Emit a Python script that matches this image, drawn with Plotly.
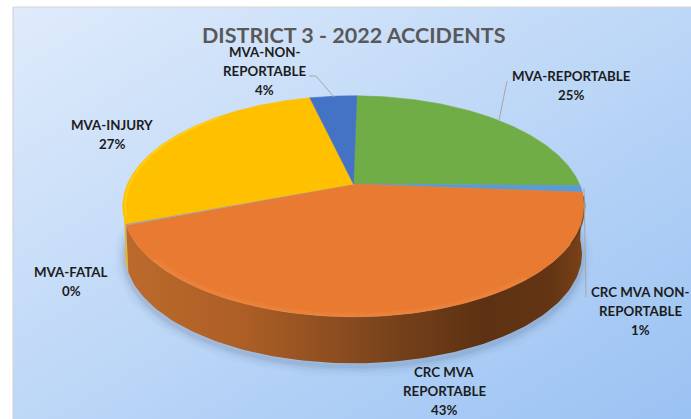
import base64
import numpy as np
import plotly.graph_objects as go

# ---- data ----
categories = ["MVA-REPORTABLE", "CRC MVA NON-REPORTABLE", "CRC MVA REPORTABLE",
              "MVA-FATAL", "MVA-INJURY", "MVA-NON-REPORTABLE"]
percent_values = [25, 1, 43, 0.2, 27, 4]
slice_colors = ["#70AD47", "#5B9BD5", "#E97A32", "#A5A5A5", "#FFC000", "#4472C4"]
title_text = "DISTRICT 3 - 2022 ACCIDENTS"
label_lines = [["MVA-REPORTABLE"], ["CRC MVA NON-", "REPORTABLE"], ["CRC MVA", "REPORTABLE"],
               ["MVA-FATAL"], ["MVA-INJURY"], ["MVA-NON-", "REPORTABLE"]]
label_anchor = [(571, 76), (640, 292), (444, 372), (71, 272), (112, 125), (264, 52)]

# ---- pie geometry (perspective projection of a disc) ----
W, H = 691, 419
CX, CY = 353.5, 184
RX, RY, K = 226, 106, 0.202
START_DEG = 1.0
WALL_DY, WALL_S = 48, 0.99


def project(theta_deg, r=1.0, dy=0.0, s=1.0):
    t = np.radians(theta_deg)
    x, y = r * np.sin(t), r * np.cos(t)
    d = 1 + K * y
    return CX + s * RX * x / d, CY - s * RY * y / d + dy * 1.0 + (s - 1) * 22


vals = np.array(percent_values, dtype=float)
cum = np.concatenate([[0], np.cumsum(vals)]) / vals.sum() * 360 + START_DEG

fig = go.Figure()

# soft shadow beneath the disc
th = np.linspace(70, 290, 160)
for w, a in [(22, 0.025), (16, 0.03), (11, 0.04), (7, 0.05), (4, 0.06)]:
    sx, sy = project(th, dy=WALL_DY + 3, s=WALL_S)
    fig.add_trace(go.Scatter(x=sx, y=sy, mode="lines", hoverinfo="skip",
                             line=dict(color=f"rgba(50,70,110,{a})", width=w)))

# side walls, one per visible slice
idx_yellow = categories.index("MVA-INJURY")
idx_orange = categories.index("CRC MVA REPORTABLE")


def wall(a, b):
    t = np.linspace(a, b, 120)
    ux, uy = project(t)
    lx, ly = project(t, dy=WALL_DY, s=WALL_S)
    return np.concatenate([ux, lx[::-1], ux[:1]]), np.concatenate([uy, ly[::-1], uy[:1]])


wx, wy = wall(cum[idx_yellow], min(cum[idx_yellow + 1], 262))
fig.add_trace(go.Scatter(x=wx, y=wy, mode="lines", fill="toself", fillcolor="#EDB500",
                         line=dict(width=0, color="#EDB500"), hoverinfo="skip"))
wx, wy = wall(cum[idx_orange], cum[idx_orange + 1])
fig.add_trace(go.Scatter(
    x=wx, y=wy, mode="lines", fill="toself", hoverinfo="skip",
    line=dict(width=0, color="#8A4A1D"),
    fillgradient=dict(type="horizontal", colorscale=[
        [0.00, "#BC6A2C"], [0.25, "#AE5F26"], [0.45, "#8E4E20"], [0.60, "#74401A"],
        [0.78, "#5D3112"], [0.93, "#643514"], [1.00, "#7A4319"]]),
))

# top faces
for i, (cat, col) in enumerate(zip(categories, slice_colors)):
    t = np.linspace(cum[i], cum[i + 1], max(3, int((cum[i + 1] - cum[i]) * 2)))
    ex, ey = project(t)
    fx = np.concatenate([[CX], ex, [CX]])
    fy = np.concatenate([[CY], ey, [CY]])
    fig.add_trace(go.Scatter(x=fx, y=fy, mode="lines", fill="toself", fillcolor=col, name=cat,
                             line=dict(width=0.6, color=col), hoverinfo="name"))

# rim highlight on the top-face bevel (front of the disc only)
t = np.linspace(cum[idx_orange] + 45, cum[idx_orange + 1] - 18, 140)
for r, w, a in [(0.985, 3, 0.15), (0.995, 1.5, 0.22)]:
    hx, hy = project(t, r=r)
    fig.add_trace(go.Scatter(x=hx, y=hy, mode="lines", hoverinfo="skip",
                             line=dict(color=f"rgba(248,160,95,{a})", width=w)))
hx, hy = project(np.linspace(cum[idx_orange] + 2, cum[idx_orange] + 26, 50), r=1.002)
fig.add_trace(go.Scatter(x=hx, y=hy, mode="lines", hoverinfo="skip",
                         line=dict(color="rgba(70,35,10,0.55)", width=1.5)))
t = np.linspace(cum[idx_yellow] + 3, cum[idx_yellow + 1] - 30, 60)
hx, hy = project(t, r=0.99)
fig.add_trace(go.Scatter(x=hx, y=hy, mode="lines", hoverinfo="skip",
                         line=dict(color="rgba(255,214,40,0.6)", width=2)))

# leader lines
for lx, ly in [([309, 316, 334], [76, 76, 97]),
               ([507, 499], [81, 120]),
               ([584, 586], [188, 297])]:
    fig.add_trace(go.Scatter(x=lx, y=ly, mode="lines", hoverinfo="skip",
                             line=dict(color="#A6A6A6", width=1)))

# labels, computed from the values
total = vals.sum()
LINE_H = 19
for lines, v, (ax, ay) in zip(label_lines, vals, label_anchor):
    for j, txt in enumerate(lines + [f"{round(v / total * 100):d}%"]):
        fig.add_annotation(x=ax, y=ay + j * LINE_H, text=txt, showarrow=False,
                           xanchor="center", yanchor="middle",
                           font=dict(family="Lato", size=13.3, color="#1C1C1C", weight="bold"))
fig.add_annotation(x=354, y=35, text=title_text, showarrow=False, xanchor="center", yanchor="middle",
                   font=dict(family="Lato", size=21.5, color="#595959", weight="bold"))

# background panel with diagonal gradient
svg = ('<svg xmlns="http://www.w3.org/2000/svg" width="678" height="412">'
       '<defs><linearGradient id="g" x1="0" y1="0" x2="1" y2="1">'
       '<stop offset="0" stop-color="#DFEBFB"/><stop offset="0.5" stop-color="#BDD7F7"/>'
       '<stop offset="1" stop-color="#9AC2F3"/></linearGradient></defs>'
       '<rect width="678" height="412" fill="url(#g)"/></svg>')
uri = "data:image/svg+xml;base64," + base64.b64encode(svg.encode()).decode()
fig.update_layout(
    images=[dict(source=uri, xref="x", yref="y", x=13, y=7, sizex=678, sizey=412,
                 xanchor="left", yanchor="top", sizing="stretch", layer="below")],
    shapes=[dict(type="line", x0=13, x1=13, y0=7, y1=419, line=dict(color="#CFCFCF", width=1)),
            dict(type="line", x0=13, x1=691, y0=7, y1=7, line=dict(color="#D6D6D6", width=1))],
    width=W, height=H, margin=dict(l=0, r=0, t=0, b=0),
    paper_bgcolor="white", plot_bgcolor="rgba(0,0,0,0)", showlegend=False,
    xaxis=dict(range=[0, W], visible=False, fixedrange=True),
    yaxis=dict(range=[H, 0], visible=False, fixedrange=True),
)
fig.write_html("out.html", config=dict(displayModeBar=False),
               post_script="document.body.style.margin='0';document.body.style.overflow='hidden';")
